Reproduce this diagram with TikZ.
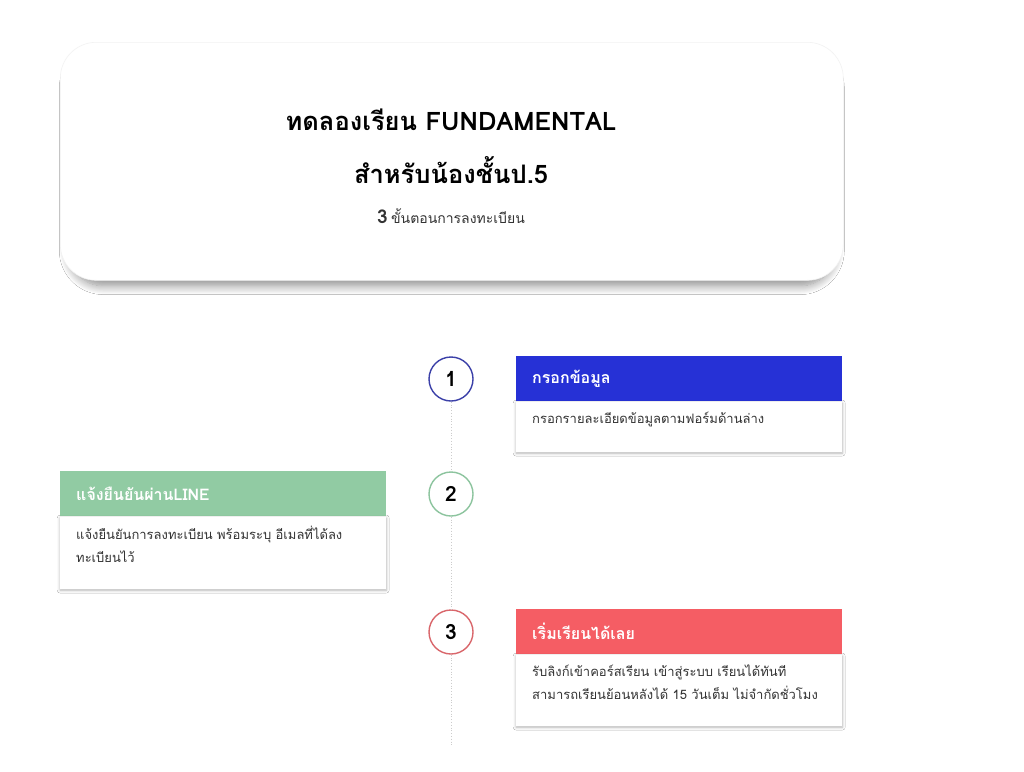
\documentclass[tikz,border=0pt]{standalone}
\usepackage{fontspec}
\setmainfont[Script=Thai]{Loma}
\usetikzlibrary{positioning,shadows.blur}

\definecolor{stepblue}{HTML}{2631D6}
\definecolor{stepgreen}{HTML}{91CBA3}
\definecolor{stepred}{HTML}{F55D64}
\definecolor{ringblue}{HTML}{3B40A8}
\definecolor{ringgreen}{HTML}{8CC49E}
\definecolor{ringred}{HTML}{D9666B}
\definecolor{textgrey}{HTML}{333333}

\begin{document}
\begin{tikzpicture}[x=1pt,y=-1pt,
    headcard/.style={draw=black!5,line width=0.6pt,fill=white,rounded corners=36pt,minimum width=783pt,minimum height=238pt,anchor=north west,blur shadow={shadow xshift=0pt,shadow yshift=-8pt,shadow scale=0.98,shadow blur radius=9pt,shadow blur steps=12,shadow opacity=45}},
    stephead/.style={anchor=north west,minimum width=326pt,minimum height=45pt,inner xsep=16pt,text=white,font=\fontsize{16}{18}\selectfont\bfseries,align=left,text width=294pt},
    stepbody/.style={below=0pt of #1,fill=white,minimum width=326pt,minimum height=50pt,blur shadow={shadow xshift=0pt,shadow yshift=-1.5pt,shadow blur radius=3pt,shadow blur steps=6,shadow opacity=30}},
    steptext/.style={anchor=north west,inner sep=0pt,align=left,text=textgrey,font=\fontsize{13}{23}\selectfont},
    stepnum/.style={circle,draw=#1,line width=1.4pt,fill=white,minimum size=44pt,inner sep=0pt,font=\fontsize{21}{21}\selectfont\bfseries},
    timeline/.style={draw=black!20,line width=0.8pt,dotted}]
  \useasboundingbox[fill=white] (0,0) rectangle (1024,771);

  % header card
  \node[headcard] (card) at (60,42) {};
  \node[font=\fontsize{25.5}{27}\selectfont\bfseries] (title) at (451,120) {ทดลองเรียน FUNDAMENTAL};
  \node[font=\fontsize{25.5}{27}\selectfont\bfseries] (subtitle) at (451,170) {สำหรับน้องชั้นป.5};
  \node[text=textgrey] (count) at (451,216) {{\fontsize{19}{20}\selectfont\bfseries 3} {\fontsize{14}{16}\selectfont ขั้นตอนการลงทะเบียน}};

  % timeline
  \coordinate (tl_end) at (451,745);
  \node[stepnum=ringblue] (n_1) at (451,379) {1};
  \node[stepnum=ringgreen] (n_2) at (451,494) {2};
  \node[stepnum=ringred] (n_3) at (451,632) {3};

  % step cards
  \node[stephead,fill=stepblue] (h_1) at (516,356) {กรอกข้อมูล};
  \node[stepbody=h_1] (b_1) {};
  \node[steptext] (t_1) at ([xshift=16pt,yshift=-10pt]b_1.north west) {กรอกรายละเอียดข้อมูลตามฟอร์มด้านล่าง};

  \node[stephead,fill=stepgreen] (h_2) at (60,471) {แจ้งยืนยันผ่านLINE};
  \node[stepbody=h_2,minimum height=72pt] (b_2) {};
  \node[steptext] (t_2) at ([xshift=16pt,yshift=-10pt]b_2.north west) {แจ้งยืนยันการลงทะเบียน พร้อมระบุ อีเมลที่ได้ลง\\ทะเบียนไว้};

  \node[stephead,fill=stepred] (h_3) at (516,609) {เริ่มเรียนได้เลย};
  \node[stepbody=h_3,minimum height=71pt] (b_3) {};
  \node[steptext] (t_3) at ([xshift=16pt,yshift=-10pt]b_3.north west) {รับลิงก์เข้าคอร์สเรียน เข้าสู่ระบบ เรียนได้ทันที\\สามารถเรียนย้อนหลังได้ 15 วันเต็ม ไม่จำกัดชั่วโมง};

  \draw[timeline] (n_1) -- (n_2);
  \draw[timeline] (n_2) -- (n_3);
  \draw[timeline] (n_3) -- (tl_end);
\end{tikzpicture}
\end{document}
